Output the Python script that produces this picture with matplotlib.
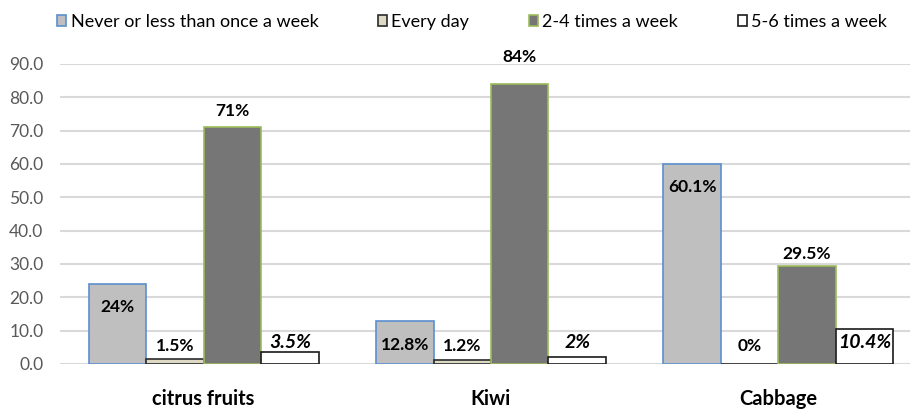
import matplotlib
matplotlib.use("Agg")
from matplotlib import pyplot as plt
import numpy as np

categories = ["citrus fruits", "Kiwi", "Cabbage"]
series_names = ["Never or less than once a week", "Every day",
                "2-4 times a week", "5-6 times a week"]

never = [24.0, 12.8, 60.1]
every_day = [1.5, 1.2, 0.0]
two_four = [71.0, 84.0, 29.5]
five_six = [3.5, 2.0, 10.4]

label_never = ["24%", "12.8%", "60.1%"]
label_every = ["1.5%", "1.2%", "0%"]
label_two = ["71%", "84%", "29.5%"]
label_five = ["3.5%", "2%", "10.4%"]

yticks = [0, 10, 20, 30, 40, 50, 60, 70, 80, 90]

plt.rcParams["font.family"] = ["Lato", "DejaVu Sans"]

fig = plt.figure(figsize=(9.10, 4.09), dpi=100)
ax = fig.add_axes([60 / 910, 45 / 409, 862 / 910, 300 / 409])

x = np.arange(len(categories))
w = 0.2

b1 = ax.bar(x - 1.5 * w, never, w, color="#BFBFBF", edgecolor="#5B8FCF",
            linewidth=1.2, label=series_names[0], zorder=3)
b2 = ax.bar(x - 0.5 * w, every_day, w, color="#DDD9C4", edgecolor="#2A2A2A",
            linewidth=1.2, label=series_names[1], zorder=3)
b3 = ax.bar(x + 0.5 * w, two_four, w, color="#767676", edgecolor="#9BBB59",
            linewidth=1.2, label=series_names[2], zorder=3)
b4 = ax.bar(x + 1.5 * w, five_six, w, color="white", edgecolor="#1A1A1A",
            linewidth=1.2, label=series_names[3], zorder=3)

# data labels (placed like the excel chart: some inside, some above)
lab_kw = dict(ha="center", va="center", fontweight="bold",
              color="black", zorder=5, clip_on=False)
for i in range(len(categories)):
    ax.text(x[i] - 1.5 * w, never[i] - 7.0, label_never[i], fontsize=12.5, **lab_kw)
    ax.text(x[i] - 0.5 * w, 5.4, label_every[i], fontsize=12.5, **lab_kw)
    ax.text(x[i] + 1.5 * w, 6.3, label_five[i], fontsize=14, style="italic",
            **lab_kw)
two_label_y = [75.9, 92.1, 33.0]
for i in range(len(categories)):
    ax.text(x[i] + 0.5 * w, two_label_y[i], label_two[i], fontsize=12.5, **lab_kw)

ax.set_xlim(-0.5, 2.5)
ax.set_ylim(0, 90)
ax.set_yticks(yticks)
ax.set_yticklabels([f"{t:.1f}" for t in yticks])
ax.set_xticks(x)
ax.set_xticklabels(categories, fontsize=14.5, fontweight="bold")
ax.tick_params(axis="x", length=0, pad=18)
ax.tick_params(axis="y", length=0, pad=12, labelsize=12.5, labelcolor="#595959")

ax.grid(axis="y", color="#D9D9D9", linewidth=1.5, zorder=0)
for s in ax.spines.values():
    s.set_visible(False)

fig.legend(handles=[b1, b2, b3, b4], loc="center left",
           bbox_to_anchor=(57 / 910, 1 - 22 / 409), ncol=4, frameon=False,
           fontsize=13, handlelength=0.5, handleheight=0.5,
           handletextpad=0.25, columnspacing=3.3, borderaxespad=0, borderpad=0)

plt.savefig("out.png", dpi=100)
